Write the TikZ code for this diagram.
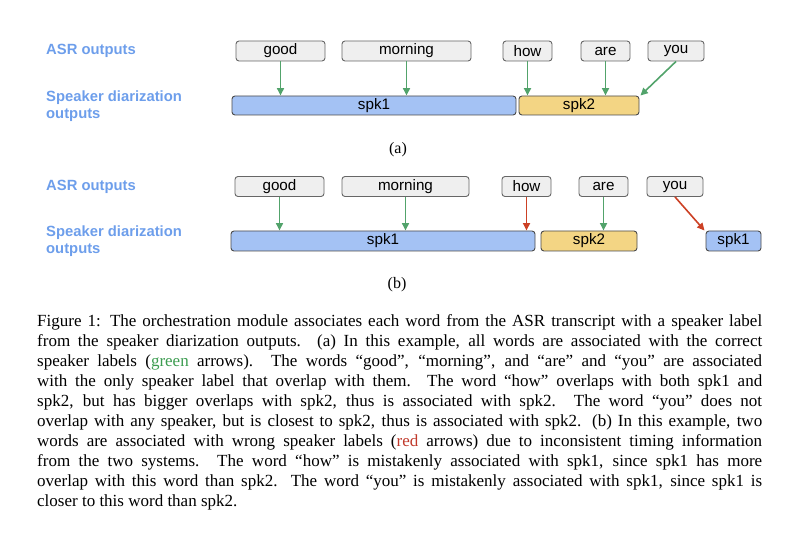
\documentclass[tikz,border=0pt]{standalone}
\usepackage{fontspec}
\setmainfont{Liberation Serif}
\newfontfamily\arialf{Liberation Sans}
\usetikzlibrary{arrows.meta}
\definecolor{labelblue}{HTML}{6D9EEB}
\definecolor{wordfill}{HTML}{EFEFEF}
\definecolor{wordborder}{HTML}{666666}
\definecolor{barblue}{HTML}{A4C2F4}
\definecolor{baryellow}{HTML}{F3D584}
\definecolor{barborder}{HTML}{4A4A4A}
\definecolor{arrgreen}{HTML}{52A36B}
\definecolor{arrred}{HTML}{CC4125}
\definecolor{capgreen}{HTML}{3C9C50}
\definecolor{capred}{HTML}{C0392B}
\tikzset{
  wordbox/.style={draw=wordborder, fill=wordfill, line width=0.9pt, rounded corners=3pt,
    minimum height=20pt, inner sep=0pt, font=\arialf\fontsize{15.2}{16}\selectfont},
  barbox/.style={draw=barborder, line width=0.9pt, rounded corners=3pt,
    minimum height=19pt, inner sep=0pt, font=\arialf\fontsize{15.2}{16}\selectfont},
  sidelabel/.style={anchor=west, inner sep=0pt, text=labelblue, align=left,
    font=\arialf\bfseries\fontsize{14.8}{17}\selectfont},
  okarrow/.style={draw=arrgreen, line width=1.6pt, -{Triangle[length=7.5pt,width=7pt]}},
  badarrow/.style={draw=arrred, line width=1.6pt, -{Triangle[length=7.5pt,width=7pt]}},
  capline/.style={anchor=base west, inner sep=0pt, font=\fontsize{17}{20}\selectfont},
  sublabel/.style={inner sep=0pt, font=\fontsize{16}{18}\selectfont}
}
\newcommand{\capl}[1]{\makebox[725pt][s]{#1}}
\begin{document}
\begin{tikzpicture}[x=1pt,y=-1pt]
\useasboundingbox (0,0) rectangle (800,545);
% ---------- panel (a)
\node[sidelabel] (asra) at (46,51) {ASR outputs};
\node[sidelabel] (sda) at (46,106.5) {Speaker diarization\\outputs};
\node[wordbox, minimum width=89pt] (ga) at (280.5,51) {good};
\node[wordbox, minimum width=129pt] (ma) at (406.5,51) {morning};
\node[wordbox, minimum width=49pt] (ha) at (527.5,51) {how};
\node[wordbox, minimum width=49pt] (aa) at (605.5,51) {are};
\node[wordbox, minimum width=56pt] (ya) at (676,51) {you};
\node[barbox, fill=barblue, minimum width=284pt] (s1a) at (374,105.5) {spk1};
\node[barbox, fill=baryellow, minimum width=120pt] (s2a) at (579,105.5) {spk2};
\draw[okarrow] (ga.south) -- (ga.south |- s1a.north);
\draw[okarrow] (ma.south) -- (ma.south |- s1a.north);
\draw[okarrow] (ha.south) -- (ha.south |- s2a.north);
\draw[okarrow] (aa.south) -- (aa.south |- s2a.north);
\draw[okarrow] (ya.south) -- ([xshift=1pt]s2a.north east);
\node[sublabel] (capa) at (398,150) {(a)};
% ---------- panel (b)
\node[sidelabel] (asrb) at (46,187) {ASR outputs};
\node[sidelabel] (sdb) at (46,241.5) {Speaker diarization\\outputs};
\node[wordbox, minimum width=89pt] (gb) at (279.5,186.5) {good};
\node[wordbox, minimum width=127pt] (mb) at (405.5,186.5) {morning};
\node[wordbox, minimum width=49pt] (hb) at (526.5,186.5) {how};
\node[wordbox, minimum width=49pt] (ab) at (603.5,186.5) {are};
\node[wordbox, minimum width=56pt] (yb) at (675,186.5) {you};
\node[barbox, fill=barblue, minimum width=304pt, minimum height=20pt] (s1b) at (383,241) {spk1};
\node[barbox, fill=baryellow, minimum width=96pt, minimum height=20pt] (s2b) at (589,241) {spk2};
\node[barbox, fill=barblue, minimum width=55pt, minimum height=20pt] (s3b) at (733.5,241) {spk1};
\draw[okarrow] (gb.south) -- (gb.south |- s1b.north);
\draw[okarrow] (mb.south) -- (mb.south |- s1b.north);
\draw[badarrow] (hb.south) -- (hb.south |- s1b.north);
\draw[okarrow] (ab.south) -- (ab.south |- s2b.north);
\draw[badarrow] (yb.south) -- ([xshift=-1pt]s3b.north west);
\node[sublabel] (capb) at (397,285) {(b)};
% ---------- caption
\node[capline] (c1) at (37,326.7) {\capl{Figure 1: The orchestration module associates each word from the ASR transcript with a speaker label}};
\node[capline] (c2) at (37,346.7) {\capl{from the speaker diarization outputs. (a) In this example, all words are associated with the correct}};
\node[capline] (c3) at (37,366.7) {\capl{speaker labels (\textcolor{capgreen}{green} arrows). The words “good”, “morning”, and “are” and “you” are associated}};
\node[capline] (c4) at (37,386.7) {\capl{with the only speaker label that overlap with them. The word “how” overlaps with both spk1 and}};
\node[capline] (c5) at (37,406.7) {\capl{spk2, but has bigger overlaps with spk2, thus is associated with spk2. The word “you” does not}};
\node[capline] (c6) at (37,426.7) {\capl{overlap with any speaker, but is closest to spk2, thus is associated with spk2. (b) In this example, two}};
\node[capline] (c7) at (37,446.7) {\capl{words are associated with wrong speaker labels (\textcolor{capred}{red} arrows) due to inconsistent timing information}};
\node[capline] (c8) at (37,466.7) {\capl{from the two systems. The word “how” is mistakenly associated with spk1, since spk1 has more}};
\node[capline] (c9) at (37,486.7) {\capl{overlap with this word than spk2. The word “you” is mistakenly associated with spk1, since spk1 is}};
\node[capline] (c10) at (37,506.7) {closer to this word than spk2.};
\end{tikzpicture}
\end{document}
